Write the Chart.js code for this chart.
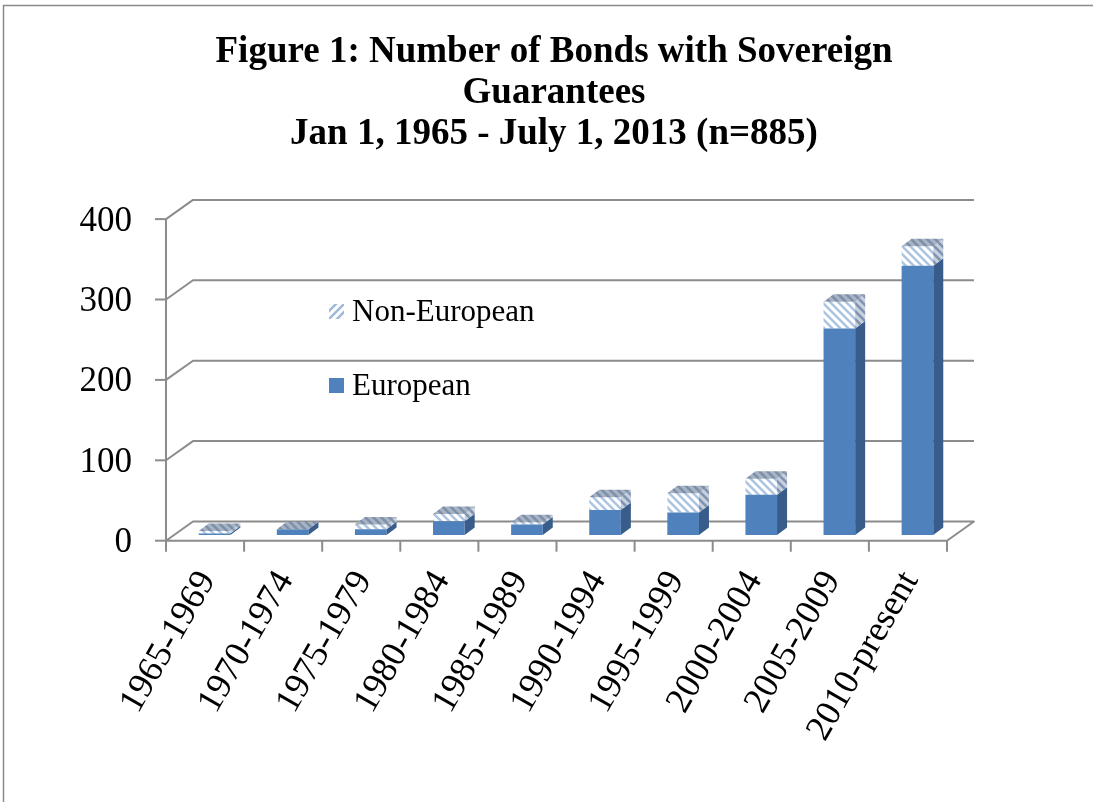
<!DOCTYPE html>
<html>
<head>
<meta charset="utf-8">
<title>Bonds with Sovereign Guarantees</title>
<script src="https://cdn.jsdelivr.net/npm/chart.js@4.4.1/dist/chart.umd.min.js"></script>
<style>
  html, body { margin: 0; padding: 0; background: #fff; }
  canvas { display: block; }
</style>
</head>
<body>
<canvas id="bonds" width="1093" height="802"></canvas>
<script>
// bond counts per issuing period
const PERIODS = ['1965-1969', '1970-1974', '1975-1979', '1980-1984', '1985-1989',
                 '1990-1994', '1995-1999', '2000-2004', '2005-2009', '2010-present'];
const EUROPEAN     = [2, 7, 7, 17, 13, 31, 28, 50, 257, 335];
const NON_EUROPEAN = [3, 0, 6, 9, 3, 16, 24, 20, 33, 24];
const TITLE_LINES  = ['Figure 1: Number of Bonds with Sovereign', 'Guarantees', 'Jan 1, 1965 - July 1, 2013 (n=885)'];
const Y_MAX  = 400;
const Y_STEP = 100;

const SERIF = "'Liberation Serif', 'Times New Roman', serif";
const GRID  = '#8c8c8c';
const BLUE  = '#4f81bd';
const BLUE_SIDE = '#385d8a';

// pseudo-3D offsets, relative to the plane the bars sit in
const FRONT = { dx: -9.5, dy: 5.7 };
const BACK  = { dx: 17.5, dy: -13.5 };
const DEPTH = { dx: 10, dy: -7.5 };

function stripes(bg, fg, back) {
  const c = document.createElement('canvas');
  c.width = c.height = 8;
  const g = c.getContext('2d');
  g.fillStyle = bg;
  g.fillRect(0, 0, 8, 8);
  g.strokeStyle = fg;
  g.lineWidth = 2.6;
  g.beginPath();
  if (back) {
    g.moveTo(-2, -2); g.lineTo(10, 10);
    g.moveTo(-2, 6);  g.lineTo(2, 10);
    g.moveTo(6, -2);  g.lineTo(10, 2);
  } else {
    g.moveTo(-2, 10); g.lineTo(10, -2);
    g.moveTo(-2, 2);  g.lineTo(2, -2);
    g.moveTo(6, 10);  g.lineTo(10, 6);
  }
  g.stroke();
  return g.createPattern(c, 'repeat');
}

const HATCH_FRONT  = stripes('#ffffff', '#aec5e1', true);
const HATCH_SIDE   = stripes('#c6d0de', '#7f93af', true);
const HATCH_TOP    = stripes('#a7b4c6', '#7e8fa7', true);
const HATCH_LEGEND = stripes('#ffffff', '#9fb9da', false);

function poly(ctx, pts, fill) {
  ctx.beginPath();
  ctx.moveTo(pts[0][0], pts[0][1]);
  for (let i = 1; i < pts.length; i++) ctx.lineTo(pts[i][0], pts[i][1]);
  ctx.closePath();
  ctx.fillStyle = fill;
  ctx.fill();
}

// frame, walls, floor and axis lines
const walls = {
  id: 'walls',
  beforeDraw(chart) {
    const ctx = chart.ctx;
    ctx.save();
    ctx.strokeStyle = '#8a8a8a';
    ctx.lineWidth = 1.5;
    ctx.beginPath();
    ctx.moveTo(3.5, 802); ctx.lineTo(3.5, 5.5); ctx.lineTo(1093, 5.5);
    ctx.stroke();
    ctx.restore();
  },
  beforeDatasetsDraw(chart) {
    const { ctx, chartArea: ca, scales: { y } } = chart;
    const fl = ca.left + FRONT.dx, fr = ca.right + FRONT.dx;
    const bl = ca.left + BACK.dx,  br = ca.right + BACK.dx;
    ctx.save();
    ctx.strokeStyle = GRID;
    ctx.lineWidth = 2;
    ctx.lineJoin = 'round';
    for (let v = 0; v <= Y_MAX; v += Y_STEP) {
      const yp = y.getPixelForValue(v);
      ctx.beginPath();
      if (v === 0) {
        ctx.moveTo(fl, yp + FRONT.dy);
        ctx.lineTo(fr, yp + FRONT.dy);
        ctx.lineTo(br, yp + BACK.dy);
        ctx.lineTo(bl, yp + BACK.dy);
        ctx.closePath();
      } else {
        ctx.moveTo(fl, yp + FRONT.dy);
        ctx.lineTo(bl, yp + BACK.dy);
        ctx.lineTo(br, yp + BACK.dy);
      }
      ctx.stroke();
      // tick mark on the value axis
      ctx.beginPath();
      ctx.moveTo(fl - 11, yp + FRONT.dy);
      ctx.lineTo(fl, yp + FRONT.dy);
      ctx.stroke();
    }
    // value axis
    ctx.beginPath();
    ctx.moveTo(fl, y.getPixelForValue(Y_MAX) + FRONT.dy);
    ctx.lineTo(fl, y.getPixelForValue(0) + FRONT.dy + 1);
    ctx.stroke();
    // category ticks
    const y0 = y.getPixelForValue(0) + FRONT.dy;
    const step = (ca.right - ca.left) / PERIODS.length;
    for (let i = 0; i <= PERIODS.length; i++) {
      const xp = fl + i * step;
      ctx.beginPath();
      ctx.moveTo(xp, y0);
      ctx.lineTo(xp, y0 + 11);
      ctx.stroke();
    }
    ctx.restore();
  },
  afterDatasetsDraw(chart) {
    const ctx = chart.ctx;
    const metas = chart.data.datasets.map((d, i) => chart.getDatasetMeta(i));
    const sides = [BLUE_SIDE, HATCH_SIDE];
    ctx.save();
    PERIODS.forEach((p, i) => {
      let top = Infinity, left = 0, right = 0;
      metas.forEach((meta, k) => {
        const bar = meta.data[i];
        const { x: cx, y: yt, base, width } = bar.getProps(['x', 'y', 'base', 'width'], true);
        const l = cx - width / 2, r = cx + width / 2;
        left = l; right = r;
        if (base - yt > 0.2) {
          poly(ctx, [[r, yt], [r + DEPTH.dx, yt + DEPTH.dy], [r + DEPTH.dx, base + DEPTH.dy], [r, base]], sides[k]);
        }
        top = Math.min(top, yt);
      });
      poly(ctx, [[left, top], [left + DEPTH.dx, top + DEPTH.dy], [right + DEPTH.dx, top + DEPTH.dy], [right, top]], HATCH_TOP);
    });
    ctx.restore();
  },
  afterDraw(chart) {
    // legend, stacked top series first
    const ctx = chart.ctx;
    const items = [
      { label: chart.data.datasets[1].label, fill: HATCH_LEGEND, y: 312 },
      { label: chart.data.datasets[0].label, fill: BLUE, y: 386 }
    ];
    ctx.save();
    ctx.font = '31px ' + SERIF;
    ctx.textBaseline = 'middle';
    items.forEach(it => {
      ctx.fillStyle = it.fill;
      ctx.fillRect(329, it.y - 8, 15, 15);
      ctx.fillStyle = '#000';
      ctx.fillText(it.label, 352, it.y + 1);
    });
    ctx.restore();
  }
};

new Chart(document.getElementById('bonds'), {
  type: 'bar',
  data: {
    labels: PERIODS,
    datasets: [
      { label: 'European', data: EUROPEAN, backgroundColor: BLUE, borderWidth: 0 },
      { label: 'Non-European', data: NON_EUROPEAN, backgroundColor: HATCH_FRONT, borderWidth: 0 }
    ]
  },
  options: {
    responsive: false,
    animation: false,
    devicePixelRatio: 1,
    layout: { padding: { left: 15, right: 0, top: 0, bottom: 0 } },
    datasets: { bar: { categoryPercentage: 1, barPercentage: 0.405 } },
    plugins: {
      legend: { display: false },
      tooltip: { enabled: false },
      title: {
        display: true,
        text: TITLE_LINES,
        color: '#000',
        font: { family: SERIF, size: 37, weight: 'bold', lineHeight: 1.11 },
        padding: { top: 31.5, bottom: 58.7 }
      }
    },
    scales: {
      x: {
        stacked: true,
        grid: { display: false, drawTicks: false },
        border: { display: false },
        ticks: {
          color: '#000',
          font: { family: SERIF, size: 36 },
          minRotation: 60,
          maxRotation: 60,
          autoSkip: false,
          padding: 29,
          labelOffset: -7
        },
        afterFit(s) { s.height = 267; }
      },
      y: {
        stacked: true,
        min: 0,
        max: Y_MAX,
        grid: { display: false, drawTicks: false },
        border: { display: false },
        ticks: {
          stepSize: Y_STEP,
          color: '#000',
          font: { family: SERIF, size: 35 },
          padding: 43.5,
          labelOffset: 8
        },
        afterFit(s) { s.width = 160.5; }
      },
      spacer: {
        position: 'right',
        grid: { display: false, drawTicks: false },
        border: { display: false },
        ticks: { display: false },
        afterFit(s) { s.width = 136.5; }
      }
    }
  },
  plugins: [walls]
});
</script>
</body>
</html>
